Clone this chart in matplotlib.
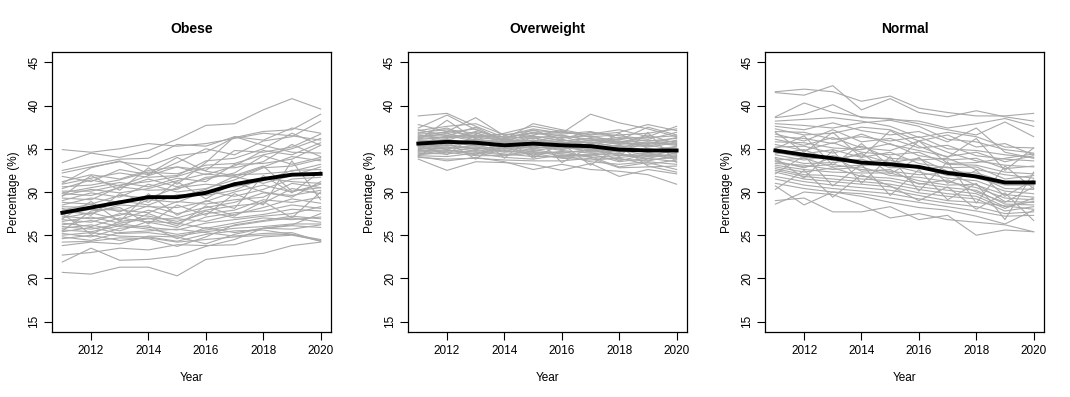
import matplotlib
matplotlib.use("Agg")
import matplotlib.pyplot as plt
import numpy as np

plt.rcParams['font.family'] = ['Liberation Sans', 'DejaVu Sans']

years = [2011, 2012, 2013, 2014, 2015, 2016, 2017, 2018, 2019, 2020]
panel_titles = ["Obese", "Overweight", "Normal"]

# national average lines (black)
obese_mean = [27.6, 28.2, 28.8, 29.4, 29.4, 29.9, 30.9, 31.5, 32.0, 32.1]
overweight_mean = [35.6, 35.8, 35.7, 35.4, 35.6, 35.4, 35.3, 34.9, 34.8, 34.8]
normal_mean = [34.8, 34.3, 33.9, 33.4, 33.2, 32.9, 32.2, 31.8, 31.1, 31.1]

# state lines (grey)
obese_states = [
    [34.9, 34.6, 35.0, 35.6, 35.3, 35.6, 36.2, 36.8, 36.5, 36.0],
    [33.4, 34.5, 34.0, 34.8, 36.1, 37.7, 37.9, 39.5, 40.8, 39.6],
    [32.5, 33.2, 33.8, 33.9, 35.5, 35.3, 36.4, 36.0, 37.4, 36.8],
    [32.2, 32.9, 33.5, 33.0, 34.2, 34.6, 36.3, 37.0, 37.2, 39.0],
    [31.8, 31.2, 32.6, 32.0, 33.4, 35.0, 34.3, 35.9, 36.4, 38.2],
    [31.2, 32.0, 31.5, 32.5, 32.9, 32.5, 34.8, 34.6, 35.2, 36.7],
    [30.9, 31.6, 32.2, 31.7, 31.9, 33.6, 33.9, 35.0, 36.8, 35.4],
    [30.6, 30.8, 31.4, 32.3, 32.1, 33.1, 33.3, 34.3, 35.0, 36.2],
    [30.4, 31.4, 30.7, 31.9, 32.9, 32.0, 33.0, 34.8, 34.3, 35.7],
    [30.1, 30.1, 30.8, 31.2, 31.8, 32.8, 32.8, 33.5, 35.5, 34.1],
    [29.9, 30.5, 31.1, 30.6, 31.6, 31.2, 33.2, 33.3, 33.8, 35.4],
    [29.8, 29.6, 30.5, 31.5, 30.6, 31.5, 32.2, 34.2, 33.2, 34.0],
    [29.6, 30.3, 29.9, 30.4, 31.3, 32.1, 31.7, 32.9, 34.1, 33.6],
    [29.3, 29.1, 30.6, 30.2, 30.3, 31.7, 32.0, 32.1, 32.4, 33.2],
    [29.0, 29.9, 29.4, 30.9, 30.0, 30.4, 31.4, 32.8, 33.0, 33.8],
    [28.8, 28.6, 29.6, 29.3, 30.5, 30.9, 30.6, 31.3, 32.5, 32.6],
    [28.5, 29.3, 28.8, 29.6, 29.4, 30.3, 31.8, 31.0, 31.9, 32.9],
    [28.3, 28.2, 29.0, 28.5, 29.7, 29.6, 30.2, 31.6, 31.2, 31.0],
    [27.9, 28.6, 27.7, 29.1, 28.8, 30.1, 29.5, 30.3, 31.5, 31.7],
    [27.7, 27.5, 28.5, 28.3, 28.2, 28.9, 30.0, 30.8, 30.0, 30.9],
    [27.4, 28.0, 27.9, 27.6, 28.9, 28.6, 29.1, 29.4, 31.0, 30.5],
    [27.2, 26.9, 27.3, 28.4, 27.5, 28.2, 28.8, 29.9, 29.6, 30.2],
    [27.0, 27.6, 26.8, 27.9, 27.0, 27.9, 28.4, 28.7, 30.4, 29.8],
    [26.8, 26.5, 27.5, 27.2, 26.6, 27.5, 27.9, 29.1, 28.8, 29.4],
    [26.6, 27.1, 26.4, 26.9, 26.9, 26.6, 27.4, 28.2, 29.2, 28.7],
    [26.4, 26.0, 27.0, 26.5, 25.9, 27.1, 27.6, 27.8, 28.5, 28.1],
    [26.2, 26.7, 26.0, 27.5, 26.3, 27.8, 27.0, 27.4, 28.0, 27.8],
    [26.0, 25.7, 26.3, 25.9, 25.6, 26.4, 26.8, 27.2, 27.5, 28.3],
    [25.8, 26.2, 25.5, 26.6, 26.4, 25.8, 26.4, 27.0, 26.8, 27.1],
    [25.6, 25.4, 26.1, 25.7, 25.1, 25.6, 26.1, 26.6, 27.0, 26.5],
    [25.4, 25.9, 25.2, 25.3, 24.9, 25.4, 25.8, 26.0, 26.3, 26.3],
    [25.2, 24.8, 25.8, 26.1, 24.6, 25.9, 25.3, 25.8, 25.7, 26.2],
    [25.0, 25.3, 24.9, 24.8, 24.3, 25.1, 25.5, 25.6, 25.1, 24.5],
    [24.8, 24.4, 25.3, 25.5, 25.7, 25.3, 24.9, 25.2, 25.3, 24.3],
    [24.6, 25.0, 24.4, 24.7, 24.2, 24.5, 24.8, 25.0, 25.1, 24.3],
    [24.2, 24.3, 24.7, 24.6, 23.7, 24.8, 26.2, 26.7, 27.2, 26.9],
    [23.8, 24.2, 24.0, 24.9, 24.8, 24.0, 25.1, 25.8, 26.1, 25.9],
    [22.7, 23.0, 23.5, 23.3, 23.9, 23.8, 23.9, 24.8, 25.0, 24.4],
    [21.9, 23.5, 22.1, 22.2, 22.6, 23.7, 24.5, 25.8, 26.2, 27.5],
    [20.7, 20.5, 21.3, 21.3, 20.3, 22.2, 22.6, 22.9, 23.8, 24.2],
    [31.0, 32.8, 33.6, 32.1, 34.0, 32.4, 31.9, 33.0, 30.1, 30.5],
    [29.5, 31.9, 30.2, 32.8, 30.9, 33.4, 36.4, 35.4, 34.6, 34.5],
    [28.1, 27.3, 29.8, 28.8, 31.2, 29.2, 31.1, 30.0, 29.4, 31.2],
    [26.9, 28.9, 26.6, 29.8, 27.3, 29.0, 28.1, 31.9, 29.9, 32.4],
    [25.5, 27.8, 28.2, 26.3, 28.5, 27.3, 29.8, 28.5, 33.6, 29.1],
    [27.5, 25.1, 26.6, 27.0, 26.1, 28.4, 27.2, 28.9, 27.0, 30.0],
]

overweight_states = [
    [38.8, 39.1, 37.6, 36.3, 36.9, 36.5, 36.1, 35.7, 35.5, 35.9],
    [37.8, 37.0, 38.6, 36.5, 37.3, 36.8, 39.0, 38.0, 37.3, 36.4],
    [37.4, 38.9, 37.2, 36.1, 37.9, 37.2, 36.6, 36.9, 37.8, 37.1],
    [37.1, 37.6, 37.9, 36.6, 37.1, 36.9, 36.7, 37.2, 36.4, 37.6],
    [36.9, 37.2, 36.8, 36.0, 36.6, 37.1, 36.3, 36.0, 37.5, 36.6],
    [36.7, 36.9, 37.3, 35.8, 36.9, 36.2, 36.9, 36.5, 36.1, 36.9],
    [36.5, 36.6, 36.4, 36.4, 36.2, 36.6, 35.9, 36.3, 35.9, 36.2],
    [36.3, 36.8, 36.0, 35.7, 36.5, 35.9, 36.2, 35.6, 36.6, 35.6],
    [36.1, 36.3, 36.6, 35.9, 35.9, 36.4, 35.6, 35.9, 35.3, 36.0],
    [36.0, 35.9, 35.7, 36.2, 35.6, 35.7, 35.8, 35.2, 35.7, 35.4],
    [35.8, 36.1, 35.5, 35.5, 36.0, 35.5, 35.2, 35.4, 34.8, 35.2],
    [35.7, 35.6, 36.1, 35.2, 35.4, 35.8, 35.4, 34.8, 35.0, 34.7],
    [35.5, 35.8, 35.3, 35.6, 35.1, 35.3, 34.9, 35.0, 34.6, 35.0],
    [35.4, 35.3, 35.8, 35.0, 35.7, 35.0, 35.1, 34.6, 34.9, 34.4],
    [35.2, 35.5, 35.0, 35.3, 34.8, 35.2, 34.7, 34.9, 34.2, 34.8],
    [35.1, 35.0, 35.4, 34.8, 35.3, 34.8, 34.5, 34.2, 34.5, 34.1],
    [34.9, 35.2, 34.7, 35.1, 34.6, 34.6, 34.8, 34.4, 33.9, 34.5],
    [34.8, 34.7, 35.1, 34.6, 34.9, 34.4, 34.2, 34.0, 34.3, 33.8],
    [34.6, 34.9, 34.4, 34.9, 34.3, 34.7, 34.0, 33.8, 33.6, 34.2],
    [34.5, 34.4, 34.8, 34.4, 34.1, 34.1, 34.4, 33.5, 33.9, 33.5],
    [34.3, 34.6, 34.2, 34.2, 34.5, 33.9, 33.7, 33.9, 33.2, 33.7],
    [34.2, 34.1, 34.5, 34.0, 33.8, 34.3, 33.5, 33.2, 33.5, 33.2],
    [34.0, 33.8, 33.9, 33.7, 33.6, 33.6, 33.9, 32.8, 32.9, 33.0],
    [33.8, 32.5, 33.5, 33.4, 33.2, 32.5, 33.3, 31.8, 32.6, 32.1],
    [34.1, 33.6, 34.0, 33.5, 32.6, 33.2, 32.6, 32.4, 32.0, 30.9],
    [36.8, 37.4, 36.2, 36.8, 37.6, 37.0, 36.4, 36.6, 36.8, 37.3],
    [36.6, 36.2, 37.0, 36.3, 36.8, 36.7, 37.0, 36.2, 36.3, 36.5],
    [36.4, 37.0, 36.5, 36.7, 36.4, 36.3, 36.5, 35.8, 36.0, 35.8],
    [36.2, 36.4, 36.3, 36.0, 37.2, 36.0, 35.7, 36.1, 35.6, 36.3],
    [35.9, 36.0, 36.9, 35.6, 36.3, 35.6, 36.0, 35.5, 35.8, 35.5],
    [35.6, 36.5, 35.9, 35.4, 35.8, 36.1, 35.3, 35.7, 35.2, 35.7],
    [35.3, 35.7, 35.6, 35.9, 35.5, 34.9, 35.5, 35.1, 35.4, 34.9],
    [35.0, 35.4, 34.9, 35.4, 35.0, 35.4, 34.6, 34.7, 34.7, 35.3],
    [34.7, 35.1, 35.2, 34.7, 34.5, 34.5, 34.9, 34.3, 34.1, 34.3],
    [34.4, 34.8, 34.6, 34.3, 34.7, 34.2, 34.3, 34.5, 33.7, 34.0],
    [37.2, 36.5, 37.5, 35.9, 36.0, 35.8, 35.0, 36.8, 35.0, 34.6],
    [36.0, 38.3, 36.1, 35.8, 35.2, 36.0, 35.6, 34.1, 36.9, 33.4],
    [35.3, 34.3, 36.7, 33.9, 36.6, 33.4, 35.2, 33.6, 34.4, 33.9],
    [34.2, 35.8, 33.8, 36.2, 33.9, 35.6, 33.1, 35.3, 33.0, 32.3],
    [35.6, 34.9, 34.3, 35.3, 34.2, 34.0, 34.1, 32.9, 33.4, 32.6],
]

normal_states = [
    [41.6, 41.9, 41.6, 40.5, 41.1, 39.7, 39.2, 38.8, 38.8, 39.1],
    [41.5, 41.2, 42.3, 39.5, 40.8, 39.2, 38.7, 39.4, 38.7, 38.2],
    [38.7, 40.3, 39.2, 38.7, 38.4, 38.2, 37.4, 37.9, 38.5, 37.6],
    [38.6, 39.0, 40.1, 38.6, 38.5, 37.9, 37.2, 36.6, 38.1, 36.4],
    [38.2, 38.4, 38.6, 38.2, 37.6, 36.3, 36.9, 36.4, 35.2, 35.1],
    [37.9, 37.7, 37.4, 38.0, 38.3, 37.6, 36.1, 35.8, 34.9, 34.5],
    [37.6, 37.2, 38.0, 37.1, 36.6, 37.0, 35.8, 37.4, 34.6, 33.9],
    [37.3, 36.6, 36.8, 37.5, 37.2, 35.9, 36.6, 35.2, 35.6, 34.3],
    [37.0, 36.9, 36.1, 36.4, 35.9, 36.4, 35.0, 34.8, 34.3, 34.0],
    [36.7, 35.9, 37.2, 35.8, 36.2, 35.1, 35.4, 34.2, 33.8, 33.6],
    [36.4, 36.2, 35.6, 36.7, 35.5, 34.8, 34.1, 34.6, 33.5, 34.2],
    [36.1, 35.4, 36.3, 35.1, 34.8, 35.9, 34.6, 33.6, 33.1, 32.9],
    [35.8, 35.7, 35.1, 34.9, 35.6, 34.2, 33.7, 33.9, 32.7, 33.0],
    [35.5, 34.8, 35.7, 34.6, 34.3, 34.6, 33.2, 33.1, 32.3, 32.1],
    [35.2, 35.3, 34.5, 35.3, 33.9, 33.7, 33.9, 32.6, 32.0, 31.6],
    [34.9, 34.4, 34.9, 34.0, 34.6, 33.3, 32.8, 32.9, 31.5, 31.9],
    [34.6, 34.0, 33.8, 34.3, 33.4, 33.9, 32.4, 32.2, 31.2, 31.2],
    [34.3, 33.7, 34.2, 33.5, 33.7, 32.7, 32.9, 31.6, 30.8, 30.8],
    [34.0, 33.3, 33.4, 33.8, 32.8, 32.9, 31.9, 31.9, 30.4, 30.3],
    [33.7, 33.9, 32.9, 33.1, 33.1, 32.3, 31.6, 31.3, 30.1, 29.8],
    [33.5, 32.9, 33.2, 32.6, 32.4, 32.0, 32.2, 30.8, 29.7, 29.4],
    [33.3, 33.1, 32.6, 32.9, 31.9, 31.7, 31.2, 30.5, 29.3, 29.1],
    [33.1, 32.6, 32.3, 32.2, 32.2, 31.3, 30.8, 30.9, 28.9, 28.8],
    [32.9, 32.3, 32.8, 31.8, 31.6, 31.0, 30.5, 30.2, 28.6, 28.5],
    [32.7, 32.0, 31.9, 31.5, 31.3, 30.6, 30.2, 29.8, 28.3, 28.9],
    [32.5, 31.8, 31.5, 31.2, 30.9, 30.3, 29.8, 29.5, 28.1, 29.3],
    [32.3, 31.5, 31.2, 30.9, 30.6, 29.9, 29.5, 29.2, 27.8, 28.3],
    [31.8, 31.2, 30.8, 30.5, 30.2, 29.6, 29.0, 28.8, 28.4, 28.0],
    [31.5, 30.8, 30.4, 30.1, 29.8, 29.2, 28.7, 28.3, 27.5, 27.7],
    [31.0, 30.4, 30.0, 29.8, 29.3, 28.8, 28.3, 27.8, 27.2, 27.3],
    [30.7, 28.5, 30.0, 29.5, 28.8, 28.2, 27.9, 27.2, 26.3, 27.9],
    [29.0, 29.3, 27.7, 27.7, 28.3, 26.8, 27.3, 25.0, 25.6, 25.4],
    [28.6, 30.0, 29.7, 28.5, 27.0, 27.5, 26.8, 26.5, 26.2, 25.4],
    [36.9, 34.6, 36.9, 34.0, 37.1, 35.3, 34.0, 36.2, 32.5, 35.1],
    [35.0, 36.5, 33.1, 35.6, 33.0, 35.9, 33.3, 33.4, 33.9, 34.4],
    [33.9, 31.6, 34.8, 31.0, 34.1, 30.1, 33.5, 28.7, 33.0, 30.4],
    [32.1, 34.2, 30.7, 33.2, 29.6, 32.6, 29.1, 31.0, 26.8, 32.3],
    [30.3, 32.5, 29.4, 32.0, 30.7, 29.0, 30.6, 28.0, 29.9, 26.7],
    [33.6, 32.8, 34.0, 32.4, 32.6, 30.9, 31.4, 30.0, 28.8, 30.6],
    [34.4, 34.9, 33.6, 34.5, 32.1, 34.0, 31.0, 32.5, 29.5, 31.4],
]

panel_states = [obese_states, overweight_states, normal_states]
panel_means = [obese_mean, overweight_mean, normal_mean]
panel_lefts = [0.0486, 0.3813, 0.7150]

fig = plt.figure(figsize=(10.7, 3.97), dpi=100)

for i in range(3):
    ax = fig.add_axes([panel_lefts[i], 0.1637, 0.2607, 0.7054])
    for row in panel_states[i]:
        ax.plot(years, row, color='#a9a9a9', linewidth=0.8)
    ax.plot(years, panel_means[i], color='black', linewidth=2.8)

    ax.set_xlim(2010.64, 2020.36)
    ax.set_ylim(13.8, 46.2)
    ax.set_xticks([2012, 2014, 2016, 2018, 2020])
    ax.set_yticks([15, 20, 25, 30, 35, 40, 45])
    for lab in ax.get_yticklabels():
        lab.set_rotation(90)
        lab.set_va('center')
    ax.tick_params(direction='out', length=5.5, width=0.8, labelsize=8.5)
    ax.tick_params(axis='y', pad=3)
    ax.tick_params(axis='x', pad=4)
    for s in ax.spines.values():
        s.set_linewidth(0.9)

    ax.set_title(panel_titles[i], fontsize=10, fontweight='bold', pad=14)
    ax.set_xlabel("Year", fontsize=8.5, labelpad=11)
    ax.set_ylabel("Percentage (%)", fontsize=8.5, labelpad=6)

fig.savefig("out.png", dpi=100)
